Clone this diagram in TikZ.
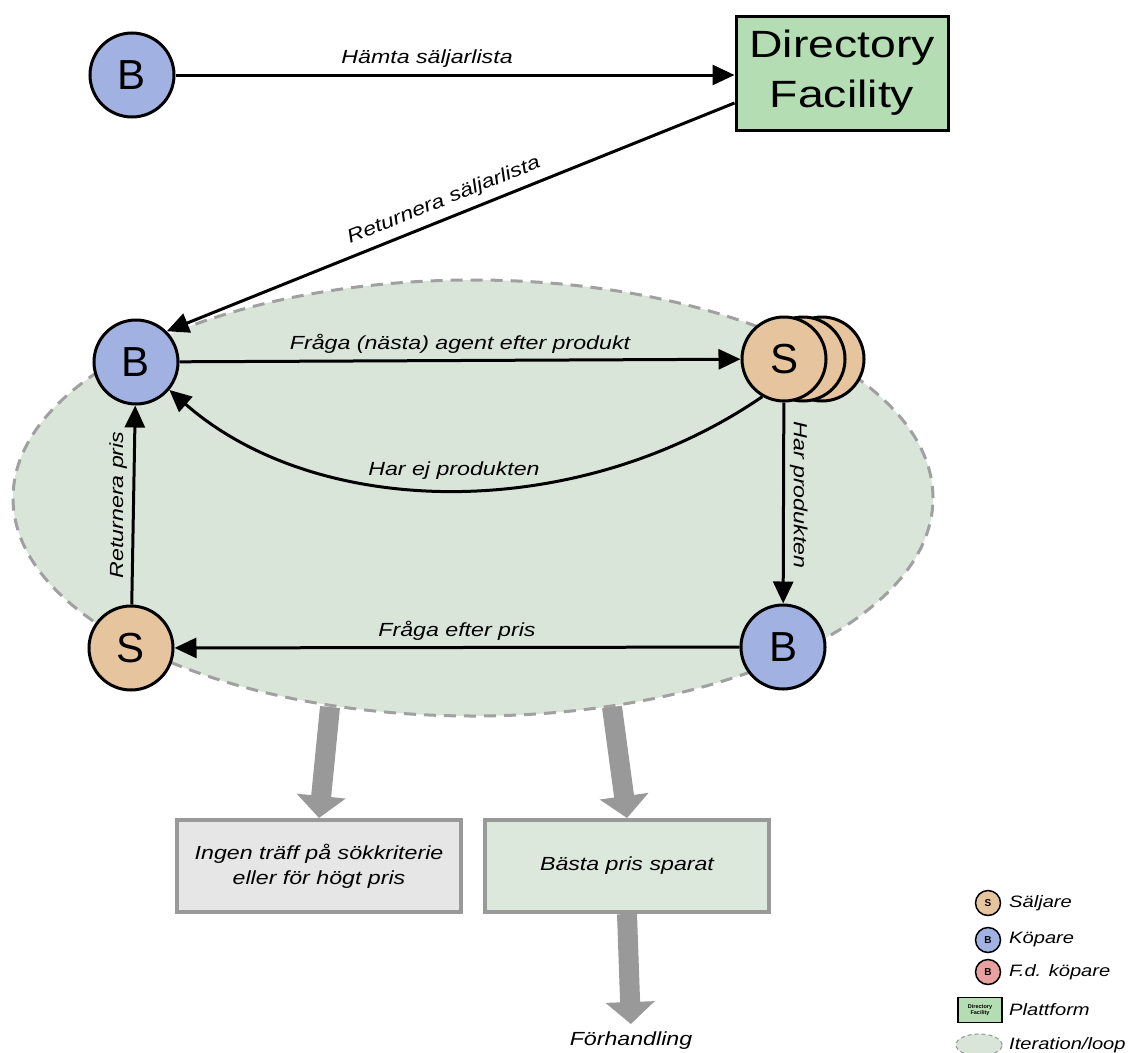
\documentclass[tikz,border=0pt]{standalone}
\usepackage{fontspec}
\setmainfont{Liberation Sans}
\newfontfamily\lblfont{Liberation Sans}[FakeStretch=1.22]
\usetikzlibrary{arrows.meta,shapes.geometric}
\definecolor{buyer}{RGB}{161,178,226}
\definecolor{seller}{RGB}{230,196,158}
\definecolor{former}{RGB}{232,160,160}
\definecolor{platform}{RGB}{180,221,180}
\definecolor{loopfill}{RGB}{218,229,218}
\definecolor{loopline}{RGB}{160,160,160}
\definecolor{nohit}{RGB}{230,230,230}
\definecolor{saved}{RGB}{221,232,221}
\definecolor{flow}{RGB}{153,153,153}
\begin{document}
\begin{tikzpicture}[x=1pt,y=-1pt,
  agent/.style={circle,draw=black,line width=3pt,minimum size=84pt,inner sep=0pt,
    font=\fontsize{42}{42}\selectfont},
  buyernode/.style={agent,fill=buyer},
  sellernode/.style={agent,fill=seller},
  msg/.style={line width=3pt,-{Triangle[length=22pt,width=20pt]}},
  lbl/.style={font=\lblfont\itshape\fontsize{19}{22}\selectfont},
  outcome/.style={draw=flow,line width=4pt,minimum width=284pt,minimum height=92pt,
    align=center,font=\lblfont\itshape\fontsize{19}{25}\selectfont},
  bigflow/.style={draw=flow,line width=20pt,-{Triangle[length=22pt,width=48pt]}},
  legagent/.style={circle,draw=black,line width=1.5pt,minimum size=25pt,inner sep=0pt,
    font=\bfseries\fontsize{10}{10}\selectfont},
  legtext/.style={anchor=west,inner sep=3pt,font=\lblfont\itshape\fontsize{16.5}{18}\selectfont},
  loopstyle/.style={ellipse,draw=loopline,fill=loopfill,dash pattern=on 12pt off 8pt},
]
\fill[white] (0,0) rectangle (1137,1052);
\useasboundingbox (0,0) rectangle (1137,1052);

% iteration area
\node[loopstyle,line width=3pt,minimum width=920pt,minimum height=436pt] (loop) at (473,498) {};

% agents
\node[buyernode] (b0) at (132,75) {B};
\node[draw,line width=3pt,fill=platform,minimum width=212pt,minimum height=114pt,
  align=center,font=\lblfont\fontsize{38}{50}\selectfont] (dir) at (842,73) {Directory\\Facility};
\node[buyernode] (b1) at (136,362) {B};
\node[sellernode] (s1c) at (822,359) {};
\node[sellernode] (s1b) at (803,359) {};
\node[sellernode] (s1) at (784,359) {S};
\node[sellernode] (s2) at (131,648) {S};
\node[buyernode] (b2) at (783,647) {B};

% messages
\draw[msg] (b0.east) -- (b0.east -| dir.west)
  node[lbl,pos=0.45,above=3pt] {Hämta säljarlista};
\draw[msg] ([yshift=-30pt]dir.west) -- (b1.north east)
  node[lbl,midway,sloped,above=4pt] {Returnera säljarlista};
\draw[msg] (b1) -- (s1)
  node[lbl,midway,above=2pt] {Fråga (nästa) agent efter produkt};
\draw[msg] (s1.240) .. controls (580,522) and (320,522) .. (b1.320)
  node[lbl,pos=0.5,above=6pt] {Har ej produkten};
\draw[msg] (s1) -- (b2)
  node[lbl,pos=0.46,rotate=-90,anchor=south,inner sep=5pt] {Har produkten};
\draw[msg] (b2) -- (s2)
  node[lbl,midway,above=2pt] {Fråga efter pris};
\draw[msg] (s2) -- (b1)
  node[lbl,midway,rotate=90,anchor=south,inner sep=5pt] {Returnera pris};

% outcomes
\node[outcome,fill=nohit] (nohitbox) at (319,866) {Ingen träff på sökkriterie\\eller för högt pris};
\node[outcome,fill=saved] (savedbox) at (627,866) {Bästa pris sparat};
\node[lbl,anchor=north] (forh) at (631,1028) {Förhandling};
\coordinate (out1) at (330,707);
\coordinate (out2) at (612,707);
\draw[bigflow] (out1) -- (nohitbox.north);
\draw[bigflow] (out2) -- (savedbox.north);
\draw[bigflow,shorten >=4pt] (savedbox.south) -- (forh.north);

% legend
\node[legagent,fill=seller] (ls) at (988,903) {S};
\node[legtext] (lst) at (1006,903) {Säljare};
\node[legagent,fill=buyer] (lb) at (988,940) {B};
\node[legtext] (lbt) at (1006,940) {Köpare};
\node[legagent,fill=former] (lf) at (988,972) {B};
\node[legtext] (lft) at (1006,972) {F.d. köpare};
\node[draw,line width=1.5pt,fill=platform,minimum width=44pt,minimum height=25pt,inner sep=1pt,
  align=center,font=\bfseries\fontsize{5.5}{6}\selectfont] (lp) at (980,1010) {Directory\\Facility};
\node[legtext] (lpt) at (1006,1010) {Plattform};
\node[loopstyle,line width=1.2pt,minimum width=46pt,minimum height=22pt,
  dash pattern=on 4pt off 3pt] (ll) at (979,1045) {};
\node[legtext] (llt) at (1006,1045) {Iteration/loop};
\end{tikzpicture}
\end{document}
